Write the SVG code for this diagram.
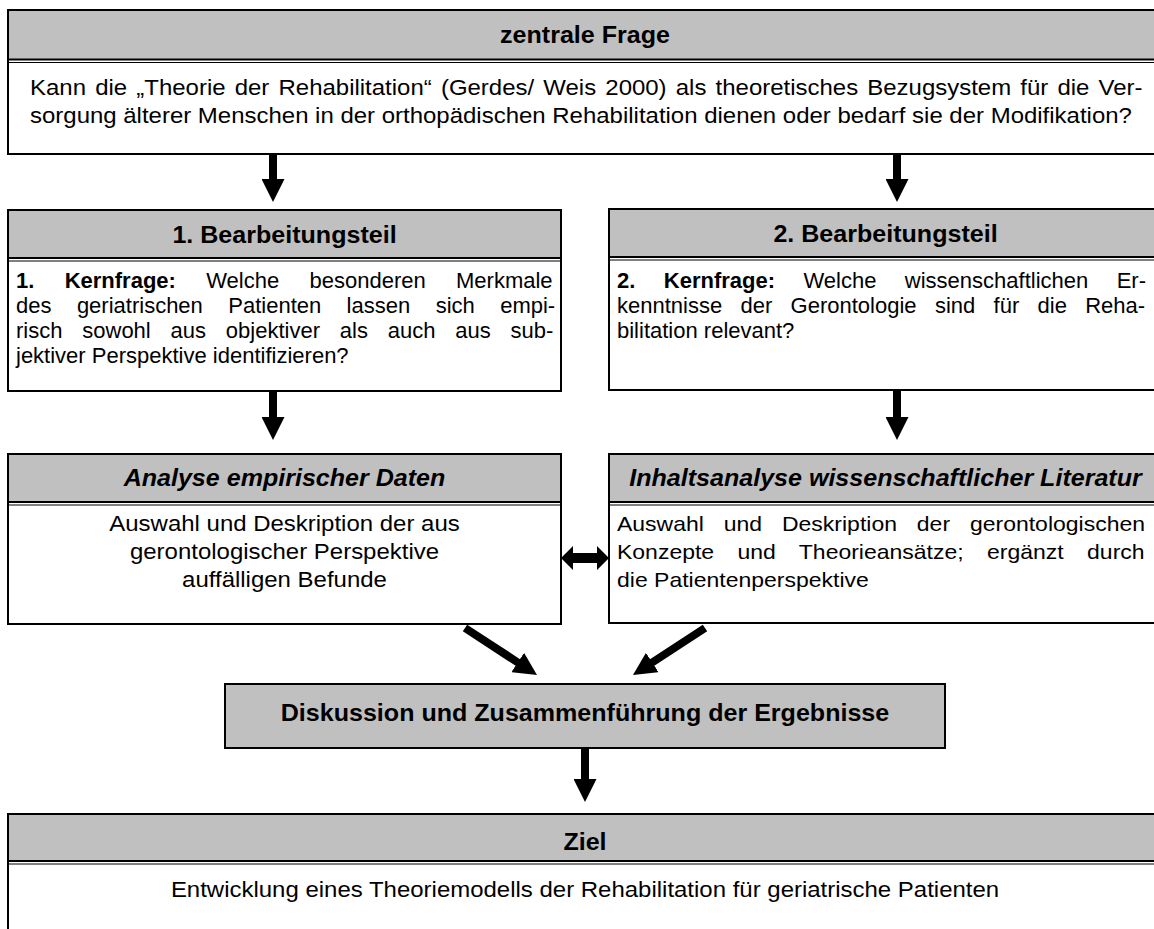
<svg xmlns="http://www.w3.org/2000/svg" width="1154" height="929" viewBox="0 0 1154 929">
<defs>
<style>
.box{fill:#fff;stroke:#000;stroke-width:2}
.hd{fill:#c0c0c0}
.ln{stroke:#000;stroke-width:2}
.ln2{stroke:#000;stroke-width:1}
.t{font-family:"Liberation Sans",Arial,sans-serif;font-size:22px;fill:#000}
.m{font-size:21px}
.h{font-family:"Liberation Sans",Arial,sans-serif;font-size:23px;font-weight:bold;fill:#000;text-anchor:middle}
.i{font-style:italic}
.c{text-anchor:middle}
.b{font-weight:bold}
.sh{stroke:#000;stroke-width:8;fill:none;marker-end:url(#ah)}
</style>
<marker id="ah" viewBox="0 0 23 23" markerUnits="userSpaceOnUse" markerWidth="23" markerHeight="23" refX="1" refY="11.5" orient="auto">
<path d="M0,0 L23,11.5 L0,23 Z" fill="#000"/>
</marker>
</defs>
<rect width="1154" height="929" fill="#fff"/>

<g id="frage">
<rect class="box" x="8" y="10" width="1154" height="144"/>
<rect class="hd" x="9" y="11" width="1152" height="48"/>
<line class="ln" x1="8" y1="59.5" x2="1162" y2="59.5"/>
<line class="ln2" x1="8" y1="62.5" x2="1162" y2="62.5"/>
<text class="h" transform="matrix(1.09 0 0 1 585 43)">zentrale Frage</text>
<text class="t" transform="matrix(1.09 0 0 1 30 95)" word-spacing="2.3">Kann die „Theorie der Rehabilitation“ (Gerdes/ Weis 2000) als theoretisches Bezugsystem für die Ver-</text>
<text class="t" transform="matrix(1.09 0 0 1 30 123)">sorgung älterer Menschen in der orthopädischen Rehabilitation dienen oder bedarf sie der Modifikation?</text>
</g>

<g id="teil1">
<rect class="box" x="8" y="210" width="553" height="181"/>
<rect class="hd" x="9" y="211" width="551" height="47"/>
<line class="ln" x1="8" y1="258" x2="561" y2="258"/>
<line class="ln2" x1="8" y1="261" x2="561" y2="261"/>
<text class="h" transform="matrix(1.09 0 0 1 284.5 243)">1. Bearbeitungsteil</text>
<text class="t" x="16" y="288" word-spacing="24.2"><tspan class="b">1. Kernfrage:</tspan> Welche besonderen Merkmale</text>
<text class="t" x="16" y="313" word-spacing="19.3">des geriatrischen Patienten lassen sich empi-</text>
<text class="t" x="16" y="338" word-spacing="13.7">risch sowohl aus objektiver als auch aus sub-</text>
<text class="t" x="16" y="363">jektiver Perspektive identifizieren?</text>
</g>

<g id="teil2">
<rect class="box" x="609" y="209" width="553" height="181"/>
<rect class="hd" x="610" y="210" width="551" height="47"/>
<line class="ln" x1="609" y1="257" x2="1162" y2="257"/>
<line class="ln2" x1="609" y1="260" x2="1162" y2="260"/>
<text class="h" transform="matrix(1.09 0 0 1 885.5 242)">2. Bearbeitungsteil</text>
<text class="t" x="617" y="288" word-spacing="22.3"><tspan class="b">2. Kernfrage:</tspan> Welche wissenschaftlichen Er-</text>
<text class="t" x="617" y="313" word-spacing="12.2">kenntnisse der Gerontologie sind für die Reha-</text>
<text class="t" x="617" y="338">bilitation relevant?</text>
</g>

<g id="analyse">
<rect class="box" x="8" y="454" width="553" height="170"/>
<rect class="hd" x="9" y="455" width="551" height="47"/>
<line class="ln" x1="8" y1="502" x2="561" y2="502"/>
<line class="ln2" x1="8" y1="505" x2="561" y2="505"/>
<text class="h i" transform="matrix(1.09 0 0 1 284.5 486)">Analyse empirischer Daten</text>
<text class="t c" transform="matrix(1.09 0 0 1 284.5 531)">Auswahl und Deskription der aus</text>
<text class="t c" transform="matrix(1.09 0 0 1 284.5 559)">gerontologischer Perspektive</text>
<text class="t c" transform="matrix(1.09 0 0 1 284.5 587)">auffälligen Befunde</text>
</g>

<g id="inhaltsanalyse">
<rect class="box" x="609" y="454" width="553" height="169"/>
<rect class="hd" x="610" y="455" width="551" height="47"/>
<line class="ln" x1="609" y1="502" x2="1162" y2="502"/>
<line class="ln2" x1="609" y1="505" x2="1162" y2="505"/>
<text class="h i" transform="matrix(1.09 0 0 1 885.5 486)">Inhaltsanalyse wissenschaftlicher Literatur</text>
<text class="t m" transform="matrix(1.095 0 0 1 617 531)" word-spacing="12.3">Auswahl und Deskription der gerontologischen</text>
<text class="t m" transform="matrix(1.095 0 0 1 617 559)" word-spacing="15.5">Konzepte und Theorieansätze; ergänzt durch</text>
<text class="t m" transform="matrix(1.095 0 0 1 617 587)">die Patientenperspektive</text>
</g>

<g id="diskussion">
<rect class="box" x="225" y="684" width="720" height="64" style="fill:#c0c0c0"/>
<text class="h" transform="matrix(1.09 0 0 1 585 721)">Diskussion und Zusammenführung der Ergebnisse</text>
</g>

<g id="ziel">
<rect class="box" x="8" y="814" width="1154" height="130"/>
<rect class="hd" x="9" y="815" width="1152" height="46"/>
<line class="ln" x1="8" y1="861" x2="1162" y2="861"/>
<line class="ln2" x1="8" y1="864" x2="1162" y2="864"/>
<text class="h" transform="matrix(1.09 0 0 1 585 850)">Ziel</text>
<text class="t c" transform="matrix(1.09 0 0 1 585 897)">Entwicklung eines Theoriemodells der Rehabilitation für geriatrische Patienten</text>
</g>

<g id="connectors">
<line class="sh" x1="273" y1="154" x2="273" y2="180"/>
<line class="sh" x1="897" y1="154" x2="897" y2="180"/>
<line class="sh" x1="273" y1="391" x2="273" y2="418"/>
<line class="sh" x1="897" y1="390" x2="897" y2="418"/>
<line class="sh" x1="465" y1="628" x2="518.6" y2="663"/>
<line class="sh" x1="705" y1="628" x2="651.4" y2="663"/>
<line class="sh" x1="585" y1="748" x2="585" y2="780"/>
<polygon points="561,558 573,546 573,553 597,553 597,546 609,558 597,570 597,563 573,563 573,570" fill="#000"/>
</g>
</svg>
